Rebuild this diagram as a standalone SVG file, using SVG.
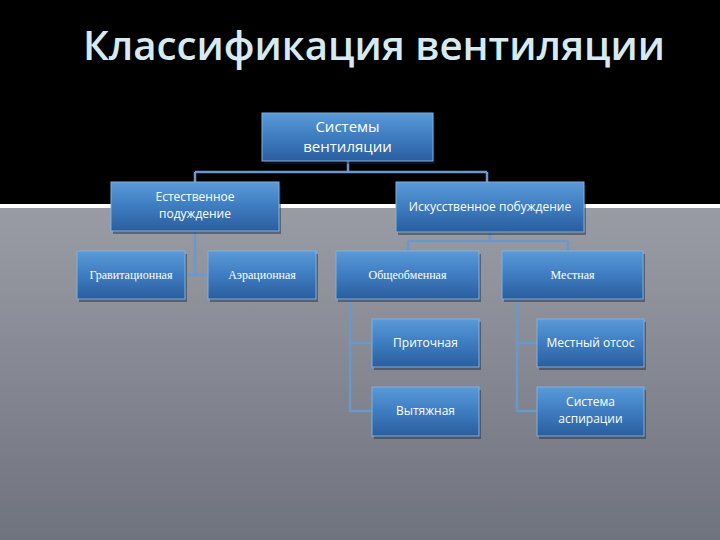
<svg xmlns="http://www.w3.org/2000/svg" width="720" height="540" viewBox="0 0 720 540">
<defs>
<linearGradient id="bg" x1="0" y1="0" x2="0" y2="1">
<stop offset="0" stop-color="#9a9ca5"/>
<stop offset="1" stop-color="#6f737e"/>
</linearGradient>
<linearGradient id="box" x1="0" y1="0" x2="0" y2="1">
<stop offset="0" stop-color="#5a9ad8"/>
<stop offset="0.5" stop-color="#3e7cc0"/>
<stop offset="1" stop-color="#2a5e9e"/>
</linearGradient>
<style>
.b{fill:url(#box);stroke:#7fb0e0;stroke-width:1}
.s{fill:#1b2330;opacity:0.45}
.t{fill:#ffffff;font-family:"Open Sans","Noto Sans",sans-serif;font-size:12px;text-anchor:middle}
.ts{fill:#ffffff;font-family:"Liberation Serif",serif;font-size:12px;text-anchor:middle}
.c{fill:none;stroke:#6a97cc;stroke-width:2.5}
</style>
</defs>
<rect x="0" y="0" width="720" height="207" fill="#000"/>
<rect x="0" y="207" width="720" height="333" fill="url(#bg)"/>
<rect x="0" y="204" width="720" height="4" fill="#ffffff"/>
<text x="83" y="60" textLength="582" lengthAdjust="spacingAndGlyphs" font-family="Open Sans, Noto Sans, sans-serif" font-size="40" font-weight="600" fill="#d6eaf0">Классификация вентиляции</text>

<g id="connectors">
<path class="c" d="M348 161 V172 M195 172 H487 M195 172 V182 M487 172 V182"/>
<path class="c" d="M195 231 V275 M185 275 H208"/>
<path class="c" d="M490 232 V241 M408 241 H568 M408 241 V251 M568 241 V251"/>
<path class="c" d="M350 299 V411 H372 M350 343 H372"/>
<path class="c" d="M517 299 V411 H537 M517 343 H537"/>
</g>

<g id="root">
<rect class="s" x="264" y="116" width="171" height="48"/>
<rect class="b" x="262" y="113" width="171" height="48"/>
<text class="t" x="347.5" y="132" style="font-size:15px">Системы</text>
<text class="t" x="347.5" y="152" style="font-size:15px">вентиляции</text>
</g>
<g id="natural">
<rect class="s" x="113" y="185" width="168" height="49"/>
<rect class="b" x="111" y="182" width="168" height="49"/>
<text class="t" x="195" y="201">Естественное</text>
<text class="t" x="195" y="218">подуждение</text>
</g>
<g id="artificial">
<rect class="s" x="398" y="185" width="188" height="50"/>
<rect class="b" x="396" y="182" width="188" height="50"/>
<text class="t" x="490" y="211">Искусственное побуждение</text>
</g>
<g id="gravity">
<rect class="s" x="79" y="254" width="108" height="48"/>
<rect class="b" x="77" y="251" width="108" height="48"/>
<text class="ts" x="131" y="279">Гравитационная</text>
</g>
<g id="aeration">
<rect class="s" x="210" y="254" width="108" height="48"/>
<rect class="b" x="208" y="251" width="108" height="48"/>
<text class="ts" x="262" y="279">Аэрационная</text>
</g>
<g id="general">
<rect class="s" x="338" y="254" width="143" height="48"/>
<rect class="b" x="336" y="251" width="143" height="48"/>
<text class="ts" x="407.5" y="279">Общеобменная</text>
</g>
<g id="local">
<rect class="s" x="504" y="254" width="141" height="48"/>
<rect class="b" x="502" y="251" width="141" height="48"/>
<text class="ts" x="572.5" y="279">Местная</text>
</g>
<g id="supply">
<rect class="s" x="374" y="322" width="107" height="48"/>
<rect class="b" x="372" y="319" width="107" height="48"/>
<text class="t" x="425.5" y="347">Приточная</text>
</g>
<g id="local-exhaust">
<rect class="s" x="539" y="322" width="107" height="48"/>
<rect class="b" x="537" y="319" width="107" height="48"/>
<text class="t" x="590.5" y="347">Местный отсос</text>
</g>
<g id="exhaust">
<rect class="s" x="374" y="390" width="107" height="49"/>
<rect class="b" x="372" y="387" width="107" height="49"/>
<text class="t" x="425.5" y="415">Вытяжная</text>
</g>
<g id="aspiration">
<rect class="s" x="539" y="390" width="107" height="49"/>
<rect class="b" x="537" y="387" width="107" height="49"/>
<text class="t" x="590.5" y="406">Система</text>
<text class="t" x="590.5" y="423">аспирации</text>
</g>
</svg>
